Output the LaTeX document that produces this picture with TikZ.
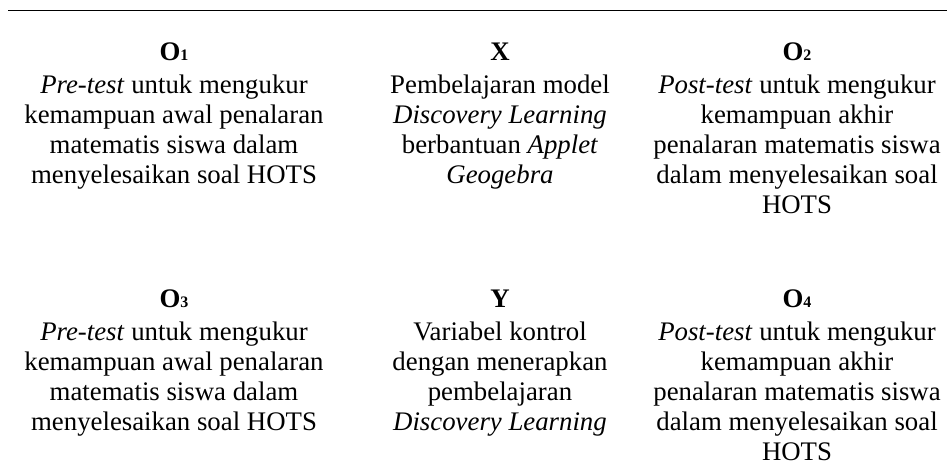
\documentclass[tikz,border=0pt]{standalone}
\usepackage{fontspec}
\setmainfont{Liberation Serif}
\newcommand{\hdg}[2]{\textbf{#1{\fontsize{16}{16}\selectfont #2}}}
\tikzset{
  cell/.style={anchor=base, inner sep=0pt, font=\fontsize{26.8}{30}\selectfont},
  toprule/.style={line width=0.9pt}
}
\begin{document}
\begin{tikzpicture}[x=1pt,y=-1pt]
\useasboundingbox (0,0) rectangle (947,472);
\coordinate (rl) at (8,10);
\coordinate (rr) at (947,10);
\draw[toprule] (rl) -- (rr);

\node[cell] (o1) at (174,60) {\begin{tabular}[t]{@{}c@{}}
\hdg{O}{1}\\[3pt]
\textit{Pre-test} untuk mengukur\\
kemampuan awal penalaran\\
matematis siswa dalam\\
menyelesaikan soal HOTS
\end{tabular}};

\node[cell] (x) at (500,60) {\begin{tabular}[t]{@{}c@{}}
\textbf{X}\\[3pt]
Pembelajaran model\\
\textit{Discovery Learning}\\
berbantuan \textit{Applet}\\
\textit{Geogebra}
\end{tabular}};

\node[cell] (o2) at (797,60) {\begin{tabular}[t]{@{}c@{}}
\hdg{O}{2}\\[3pt]
\textit{Post-test} untuk mengukur\\
kemampuan akhir\\
penalaran matematis siswa\\
dalam menyelesaikan soal\\
HOTS
\end{tabular}};

\node[cell] (o3) at (174,307) {\begin{tabular}[t]{@{}c@{}}
\hdg{O}{3}\\[3pt]
\textit{Pre-test} untuk mengukur\\
kemampuan awal penalaran\\
matematis siswa dalam\\
menyelesaikan soal HOTS
\end{tabular}};

\node[cell] (y) at (500,307) {\begin{tabular}[t]{@{}c@{}}
\textbf{Y}\\[3pt]
Variabel kontrol\\
dengan menerapkan\\
pembelajaran\\
\textit{Discovery Learning}
\end{tabular}};

\node[cell] (o4) at (797,307) {\begin{tabular}[t]{@{}c@{}}
\hdg{O}{4}\\[3pt]
\textit{Post-test} untuk mengukur\\
kemampuan akhir\\
penalaran matematis siswa\\
dalam menyelesaikan soal\\
HOTS
\end{tabular}};
\end{tikzpicture}
\end{document}
